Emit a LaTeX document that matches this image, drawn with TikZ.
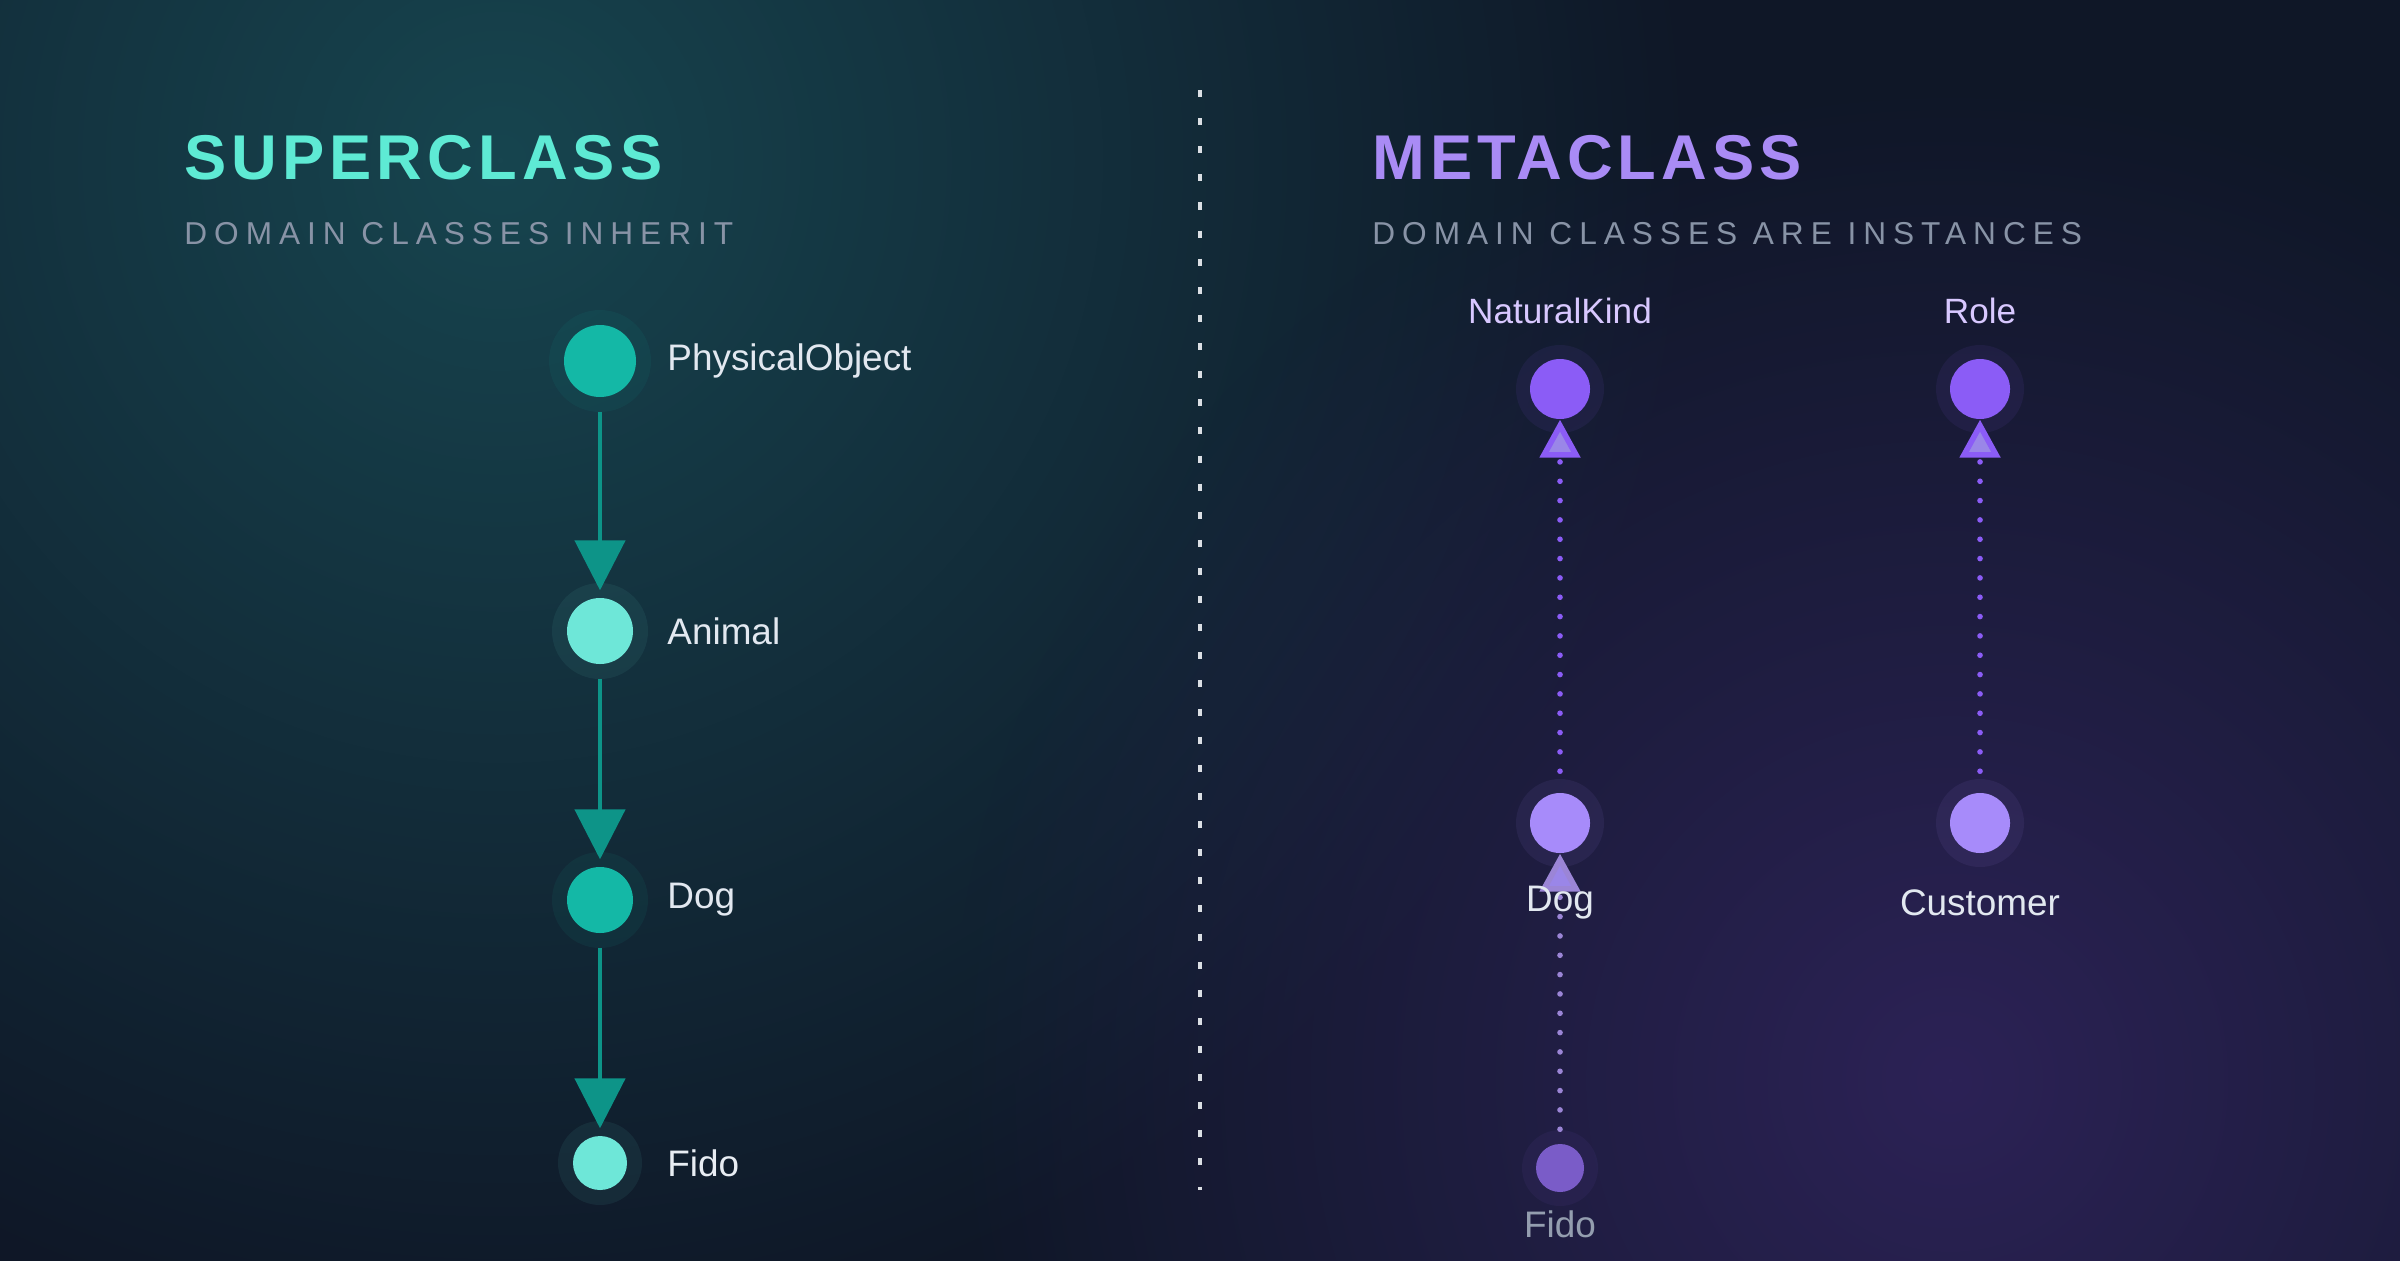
\documentclass[tikz,border=0pt]{standalone}
\usepackage{fontspec}
\setmainfont{Liberation Sans}
\usetikzlibrary{arrows.meta,fadings}
\tikzfading[name=glowfade, inner color=transparent!0, outer color=transparent!100]
\definecolor{bgbase}{HTML}{0F1727}
\definecolor{bgteal}{HTML}{17454F}
\definecolor{bgpurple}{HTML}{2C2256}
\definecolor{teal}{HTML}{14B8A6}
\definecolor{tealdark}{HTML}{0D9488}
\definecolor{teallight}{HTML}{6EE7D8}
\definecolor{tealtitle}{HTML}{5EEAD4}
\definecolor{purp}{HTML}{8B5CF6}
\definecolor{purplight}{HTML}{A78BFA}
\definecolor{purptip}{HTML}{9A86E8}
\definecolor{purpfido}{HTML}{7A5CC8}
\definecolor{purptitle}{HTML}{A98BF5}
\definecolor{purplabel}{HTML}{D8C8FF}
\definecolor{subgray}{HTML}{8893A6}
\definecolor{labelgray}{HTML}{E2E8F0}
\tikzset{
  dot/.style={circle, inner sep=0pt},
  lbl/.style={anchor=west, text=labelgray, font=\fontsize{10.5}{12}\selectfont},
  plbl/.style={text=purplabel, font=\fontsize{10}{12}\selectfont},
  title/.style={anchor=west, font=\fontsize{18}{20}\selectfont\bfseries\addfontfeatures{LetterSpace=8}},
  subtitle/.style={anchor=west, text=subgray, font=\fontsize{9}{11}\selectfont\addfontfeatures{LetterSpace=22}},
  inherit/.style={tealdark, line width=1.4pt, shorten <=4pt, -{Triangle[width=0.5cm,length=0.5cm]}},
  instance/.style={purp, line width=1.6pt, line cap=round, dash pattern=on 0pt off 5.5pt, -{Triangle[width=0.4cm,length=0.38cm, fill=purptip, line cap=butt]}},
}
\begin{document}
\begin{tikzpicture}
\useasboundingbox (0,0) rectangle (24,12.6);
\begin{scope}
\clip (0,0) rectangle (24,12.6);
\fill[bgbase] (-1,-1) rectangle (25,13.6);
\fill[bgteal, path fading=glowfade] (5,11) circle (12);
\fill[bgpurple, path fading=glowfade] (19.5,1.8) circle (10);
\end{scope}
\draw[subgray!30, dash pattern=on 2pt off 6pt, line width=1pt] (12,11.7) -- (12,0.7);
% superclass side
\node[title, text=tealtitle] (t1) at (1.72,11.02) {SUPERCLASS};
\node[subtitle] (s1) at (1.72,10.26) {DOMAIN CLASSES INHERIT};
\foreach \y/\r/\c/\n in {8.99/0.36/teal/po, 6.29/0.33/teallight/an, 3.6/0.33/teal/dg, 0.97/0.27/teallight/fd}{
  \fill[\c, opacity=0.07] (6,\y) circle (\r+0.15);
  \node[dot, fill=\c, minimum size=2*\r cm] (\n) at (6,\y) {};
}
\node[lbl] at (6.55,8.99) {PhysicalObject};
\node[lbl] at (6.55,6.29) {Animal};
\node[lbl] at (6.55,3.6) {Dog};
\node[lbl, text=labelgray!80] at (6.55,0.97) {Fido};
\draw[inherit] (po) -- ([yshift=2pt]an.north);
\draw[inherit] (an) -- ([yshift=2pt]dg.north);
\draw[inherit] (dg) -- ([yshift=2pt]fd.north);
% metaclass side
\node[title, text=purptitle] (t2) at (13.6,11.02) {METACLASS};
\node[subtitle] (s2) at (13.6,10.26) {DOMAIN CLASSES ARE INSTANCES};
\foreach \x/\y/\r/\c/\n in {15.6/8.71/0.3/purp/nk, 19.8/8.71/0.3/purp/ro, 15.6/4.37/0.3/purplight/md, 19.8/4.37/0.3/purplight/cu, 15.6/0.92/0.24/purpfido/mf}{
  \fill[\c, opacity=0.08] (\x,\y) circle (\r+0.14);
  \node[dot, fill=\c, minimum size=2*\r cm] (\n) at (\x,\y) {};
}
\node[plbl] at (15.6,9.49) {NaturalKind};
\node[plbl] at (19.8,9.49) {Role};
\draw[instance, shorten <=6pt] (md) -- (nk);
\draw[instance, shorten <=6pt] (cu) -- (ro);
\draw[instance, purpfido!75, shorten <=4pt] (mf) -- (md);
\node[lbl, anchor=center] at (15.6,3.57) {Dog};
\node[lbl, anchor=center] at (19.8,3.57) {Customer};
\node[lbl, anchor=center, text=subgray!90] at (15.6,0.36) {Fido};
\end{tikzpicture}
\end{document}
